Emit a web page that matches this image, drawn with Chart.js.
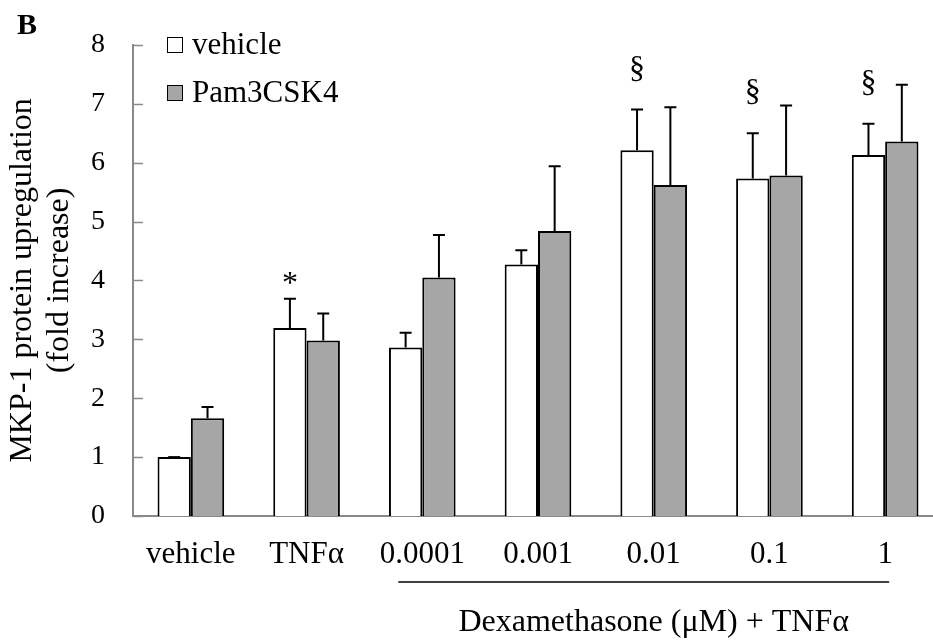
<!DOCTYPE html>
<html>
<head>
<meta charset="utf-8">
<script src="https://cdn.jsdelivr.net/npm/chart.js@4.4.1/dist/chart.umd.min.js"></script>
<style>
  html, body { margin: 0; padding: 0; background: #fff; overflow: hidden; }
  #wrap { width: 960px; height: 642px; }
</style>
</head>
<body>
<div id="wrap"><canvas id="chart" width="960" height="642"></canvas></div>
<script>
// Datos
const categories = ['vehicle', 'TNF\u03b1', '0.0001', '0.001', '0.01', '0.1', '1'];
const vehicleMean = [1.00, 3.19, 2.86, 4.27, 6.21, 5.73, 6.13];
const vehicleSD = [0.00, 0.50, 0.25, 0.24, 0.69, 0.77, 0.53];
const pamMean = [1.66, 2.98, 4.05, 4.84, 5.62, 5.78, 6.36];
const pamSD = [0.19, 0.46, 0.72, 1.10, 1.32, 1.19, 0.96];
const vehicleMarks = ['', '*', '', '', '\u00a7', '\u00a7', '\u00a7'];
const yTicks = [0, 1, 2, 3, 4, 5, 6, 7, 8];

const FONT = '"Liberation Serif", "Times New Roman", serif';
const AXIS_GREY = '#8a8a8a';

// Barras de error (solo hacia arriba)
const errorBars = {
    id: 'errorBars',
    afterDatasetsDraw(chart) {
        const ctx = chart.ctx;
        const y = chart.scales.y;
        const sds = [vehicleSD, pamSD];
        ctx.save();
        ctx.strokeStyle = '#000';
        ctx.lineWidth = 2;
        chart.data.datasets.forEach((ds, d) => {
            const meta = chart.getDatasetMeta(d);
            meta.data.forEach((bar, i) => {
                const top = y.getPixelForValue(ds.data[i] + sds[d][i]);
                ctx.beginPath();
                ctx.moveTo(bar.x, bar.y);
                ctx.lineTo(bar.x, top);
                ctx.moveTo(bar.x - 6, top);
                ctx.lineTo(bar.x + 6, top);
                ctx.stroke();
            });
        });
        ctx.restore();
    }
};

// Marcas del eje Y hacia adentro, leyenda, simbolos y texto extra
const extras = {
    id: 'extras',
    afterDraw(chart) {
        const ctx = chart.ctx;
        const x = chart.scales.x;
        const y = chart.scales.y;
        const area = chart.chartArea;
        ctx.save();

        // ticks internos
        ctx.strokeStyle = AXIS_GREY;
        ctx.lineWidth = 1.5;
        yTicks.forEach(v => {
            const py = Math.round(y.getPixelForValue(v)) + 0.5;
            ctx.beginPath();
            ctx.moveTo(area.left, py);
            ctx.lineTo(area.left + 10, py);
            ctx.stroke();
        });

        // simbolos de significancia
        ctx.fillStyle = '#000';
        ctx.textAlign = 'center';
        ctx.textBaseline = 'alphabetic';
        ctx.font = '32px ' + FONT;
        const meta = chart.getDatasetMeta(0);
        vehicleMarks.forEach((m, i) => {
            if (!m) return;
            const cap = y.getPixelForValue(vehicleMean[i] + vehicleSD[i]);
            const gap = m === '*' ? 6 : 32;
            ctx.fillText(m, meta.data[i].x, cap - gap);
        });

        // leyenda
        const lx = area.left + 34;
        chart.data.datasets.forEach((ds, d) => {
            const top = 37 + d * 48;
            ctx.fillStyle = ds.backgroundColor;
            ctx.fillRect(lx, top, 16, 16);
            ctx.strokeStyle = '#000';
            ctx.lineWidth = 1;
            ctx.strokeRect(lx + 0.5, top + 0.5, 15, 15);
            ctx.fillStyle = '#000';
            ctx.textAlign = 'left';
            ctx.font = '31px ' + FONT;
            ctx.fillText(ds.label, lx + 25, top + 17);
        });

        // linea bajo las dosis y titulo de dexametasona
        const x1 = x.getPixelForValue(2) - 24;
        const x2 = x.getPixelForValue(6) + 4;
        ctx.strokeStyle = '#000';
        ctx.lineWidth = 1.7;
        ctx.beginPath();
        ctx.moveTo(x1, 582);
        ctx.lineTo(x2, 582);
        ctx.stroke();
        ctx.textAlign = 'center';
        ctx.font = '32px ' + FONT;
        ctx.fillText('Dexamethasone (\u03bcM) + TNF\u03b1', (x.getPixelForValue(2) + x.getPixelForValue(6)) / 2, 631);

        // letra del panel
        ctx.textAlign = 'left';
        ctx.font = 'bold 30px ' + FONT;
        ctx.fillText('B', 17, 34);
        ctx.restore();
    }
};

const chart = new Chart(document.getElementById('chart'), {
    type: 'bar',
    data: {
        labels: categories,
        datasets: [
            { label: 'vehicle', data: vehicleMean, backgroundColor: '#ffffff', borderColor: '#000', borderWidth: 2 },
            { label: 'Pam3CSK4', data: pamMean, backgroundColor: '#a6a6a6', borderColor: '#000', borderWidth: 2 }
        ]
    },
    options: {
        responsive: false,
        animation: false,
        devicePixelRatio: 1,
        categoryPercentage: 0.576,
        barPercentage: 1.0,
        layout: { padding: { top: 29, right: 17, left: 0, bottom: 0 } },
        plugins: { legend: { display: false }, tooltip: { enabled: false } },
        scales: {
            x: {
                grid: { display: false, drawTicks: false },
                border: { color: AXIS_GREY, width: 2 },
                ticks: { color: '#000', font: { family: FONT, size: 31 }, padding: 20, maxRotation: 0, autoSkip: false },
                afterFit(scale) { scale.height = 126; }
            },
            y: {
                min: 0,
                max: 8,
                grid: { display: false, drawTicks: false },
                border: { color: AXIS_GREY, width: 2 },
                ticks: { stepSize: 1, color: '#000', font: { family: FONT, size: 28 }, padding: 28 },
                title: {
                    display: true,
                    text: ['MKP-1 protein upregulation', '(fold increase)'],
                    color: '#000',
                    font: { family: FONT, size: 32, lineHeight: 1.15 },
                    padding: { top: 4, bottom: 0 }
                },
                afterFit(scale) { scale.width = 133; }
            }
        }
    },
    plugins: [errorBars, extras]
});
</script>
</body>
</html>
